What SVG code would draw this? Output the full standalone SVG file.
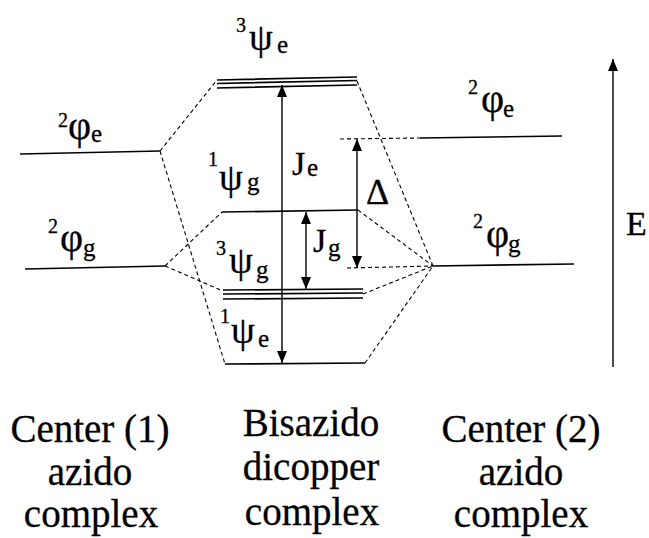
<svg xmlns="http://www.w3.org/2000/svg" width="649" height="538" viewBox="0 0 649 538">
<defs>
<marker id="ah" viewBox="0 0 12 10" refX="12" refY="5" markerWidth="12" markerHeight="10" markerUnits="userSpaceOnUse" orient="auto-start-reverse">
<path d="M0,0 L12,5 L0,10 Z" fill="#000"/>
</marker>
<style>
.lvl{stroke:#000;stroke-width:1.7;fill:none}
.dash{stroke:#000;stroke-width:1.1;fill:none;stroke-dasharray:4 3}
.arr{stroke:#000;stroke-width:1.4;fill:none}
text{font-family:"Liberation Serif","Times New Roman",serif;fill:#000;stroke:#000;stroke-width:0.3}
.g{font-size:38px}
.ph{font-size:40px}
.sup{font-size:20px}
.sub{font-size:25px}
.lbl{font-size:39px;text-anchor:middle}
</style>
</defs>
<rect width="649" height="538" fill="#fff"/>

<g id="connectors">
<path class="dash" d="M160,151 L217,80"/>
<path class="dash" d="M160,151 L225,364"/>
<path class="dash" d="M165,266 L222,212"/>
<path class="dash" d="M165,266 L223,291"/>
<path class="dash" d="M357,81 L433,266"/>
<path class="dash" d="M358,210 L433,266"/>
<path class="dash" d="M363,294 L433,266"/>
<path class="dash" d="M365,363 L433,266"/>
<path class="dash" d="M347,268 L433,266"/>
<path class="dash" d="M340,139 L420,138"/>
<path class="arr" d="M282,85 L282,363" marker-start="url(#ah)" marker-end="url(#ah)"/>
<path class="arr" d="M306,212 L306,289" marker-start="url(#ah)" marker-end="url(#ah)"/>
<path class="arr" d="M357,139 L357,268" marker-start="url(#ah)" marker-end="url(#ah)"/>
<path class="arr" d="M613,367 L613,59" marker-end="url(#ah)"/>
</g>

<g id="left-phi-e">
<path class="lvl" d="M20,154 L160,151"/>
<text class="sup" x="58" y="127">2</text>
<text class="ph" x="68" y="139">φ</text>
<text class="sub" x="91" y="142">e</text>
</g>

<g id="left-phi-g">
<path class="lvl" d="M25,269 L165,266"/>
<text class="sup" x="48" y="233">2</text>
<text class="ph" x="60" y="251">φ</text>
<text class="sub" x="83" y="256">g</text>
</g>

<g id="psi3e">
<path class="lvl" d="M217,80 L357,77 M217,83.5 L357,80.5 M217,88 L357,85"/>
<text class="sup" x="236" y="32">3</text>
<text class="g" x="249" y="50">ψ</text>
<text class="sub" x="277" y="53">e</text>
</g>

<g id="psi1g">
<path class="lvl" d="M222,212 L358,210"/>
<text class="sup" x="208" y="166">1</text>
<text class="g" x="219" y="190">ψ</text>
<text class="sub" x="247" y="190">g</text>
</g>

<g id="psi3g">
<path class="lvl" d="M223,290 L363,289 M223,294 L363,293 M223,299 L363,298"/>
<text class="sup" x="216" y="255">3</text>
<text class="g" x="229" y="273">ψ</text>
<text class="sub" x="256" y="278">g</text>
</g>

<g id="psi1e">
<path class="lvl" d="M225,364 L365,363"/>
<text class="sup" x="220" y="323">1</text>
<text class="g" x="231" y="343">ψ</text>
<text class="sub" x="258" y="347">e</text>
</g>

<g id="Je">
<text font-size="34" x="292" y="175">J</text>
<text class="sub" x="307" y="176">e</text>
</g>

<g id="Jg">
<text font-size="34" x="313" y="252">J</text>
<text class="sub" x="328" y="256">g</text>
</g>

<g id="Delta">
<text font-size="36" x="366" y="204">Δ</text>
</g>

<g id="right-phi-e">
<path class="lvl" d="M420,138 L562,136"/>
<text class="sup" x="468" y="94">2</text>
<text class="ph" x="481" y="112">φ</text>
<text class="sub" x="503" y="117">e</text>
</g>

<g id="right-phi-g">
<path class="lvl" d="M433,266 L574,264"/>
<text class="sup" x="473" y="228">2</text>
<text class="ph" x="486" y="247">φ</text>
<text class="sub" x="508" y="252">g</text>
</g>

<g id="energy">
<text font-size="34" x="626" y="235">E</text>
</g>

<g id="label-center1">
<text class="lbl" x="90" y="442">Center (1)</text>
<text class="lbl" x="90" y="485">azido</text>
<text class="lbl" x="91" y="527">complex</text>
</g>
<g id="label-bisazido">
<text class="lbl" x="311" y="436">Bisazido</text>
<text class="lbl" x="311" y="480">dicopper</text>
<text class="lbl" x="312" y="525">complex</text>
</g>
<g id="label-center2">
<text class="lbl" x="521" y="442">Center (2)</text>
<text class="lbl" x="521" y="485">azido</text>
<text class="lbl" x="521" y="527">complex</text>
</g>
</svg>
